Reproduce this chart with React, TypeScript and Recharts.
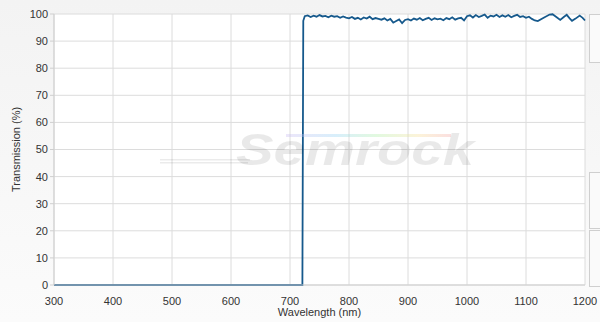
import React from "react";
import { LineChart, Line, XAxis, YAxis, CartesianGrid } from "recharts";

// blocked region, flat at 0 up to the edge
const blockPoints: [number, number][] = [
  [300, 0],
  [721, 0],
  [722.5, 97.5],
];

// pass band, sampled every 5 nm from 725 to 1115
const passStart = 725;
const passStep = 5;
const passT = [
  99.2, 99.5, 98.9, 99.4, 99.0, 99.6, 99.1, 99.3, 98.8, 99.4, 99.0, 99.2, 98.6, 99.1, 98.7,
  98.4, 98.9, 98.2, 98.6, 98.0, 98.7, 98.3, 99.0, 98.1, 98.5, 98.2,
  97.9, 98.4, 97.6, 98.2, 96.8, 97.4, 98.0, 96.6, 97.8, 98.1,
  97.6, 98.3, 97.9, 98.5, 97.7, 98.2, 98.6, 97.8, 98.4, 98.0,
  98.3, 97.7, 98.5, 98.1, 98.8, 97.9, 98.4, 98.6, 97.6, 99.2,
  99.5, 98.7, 99.6, 98.9, 99.3, 99.8, 98.6, 99.4, 99.1, 99.7,
  98.9, 99.5, 99.0, 99.6, 98.8, 99.3, 99.7, 98.9, 99.2,
  98.6, 99.0, 98.2, 97.6,
];

// smoother tail past 1115 nm
const tailPoints: [number, number][] = [
  [1120, 97.4], [1130, 98.6], [1140, 99.8], [1145, 99.9], [1152, 98.8],
  [1158, 97.8], [1164, 98.9], [1169, 99.7], [1174, 98.4], [1178, 97.5],
  [1184, 98.3], [1191, 99.4], [1196, 98.6], [1200, 97.6],
];

const xTicks = [300, 400, 500, 600, 700, 800, 900, 1000, 1100, 1200];
const yTicks = [0, 10, 20, 30, 40, 50, 60, 70, 80, 90, 100];

const data = [
  ...blockPoints.map(([nm, t]) => ({ nm, t })),
  ...passT.map((t, i) => ({ nm: passStart + i * passStep, t })),
  ...tailPoints.map(([nm, t]) => ({ nm, t })),
];

const font = "'Liberation Sans', Arial, sans-serif";

export default function App() {
  return (
    <div
      style={{
        position: "fixed",
        left: 0,
        top: 0,
        width: 600,
        height: 322,
        overflow: "hidden",
        background: "linear-gradient(to bottom, #f3f3f3, #fbfbfb)",
        fontFamily: font,
      }}
    >
      <LineChart
        width={600}
        height={322}
        data={data}
        margin={{ top: 14, right: 15, left: 0, bottom: 0 }}
      >
        <CartesianGrid stroke="#dcdcdc" fill="#ffffff" strokeWidth={1} />
        <XAxis
          dataKey="nm"
          type="number"
          domain={[300, 1200]}
          ticks={xTicks}
          tickLine={false}
          axisLine={{ stroke: "#cfcfcf" }}
          tick={{ fill: "#333", fontSize: 11, fontFamily: font }}
          tickMargin={6}
          height={37}
          label={{
            value: "Wavelength (nm)",
            position: "insideBottom",
            offset: 6,
            style: { fill: "#333", fontSize: 11, fontFamily: font },
          }}
        />
        <YAxis
          type="number"
          domain={[0, 100]}
          ticks={yTicks}
          width={54}
          tickSize={4}
          tickMargin={2}
          tickLine={{ stroke: "#cfcfcf" }}
          axisLine={{ stroke: "#cfcfcf" }}
          tick={{ fill: "#333", fontSize: 11, fontFamily: font }}
          label={{
            value: "Transmission (%)",
            angle: -90,
            position: "insideLeft",
            offset: 16,
            style: { fill: "#333", fontSize: 11, fontFamily: font, textAnchor: "middle" },
          }}
        />
        <Line
          type="linear"
          dataKey="t"
          stroke="#16598c"
          strokeWidth={1.8}
          dot={false}
          isAnimationActive={false}
        />
      </LineChart>

      {/* watermark */}
      <svg
        width={600}
        height={322}
        style={{ position: "absolute", left: 0, top: 0, pointerEvents: "none" }}
      >
        <defs>
          <linearGradient id="rb" x1="0" x2="1" y1="0" y2="0">
            <stop offset="0" stopColor="#c8b8f0" stopOpacity="0.35" />
            <stop offset="0.3" stopColor="#9ed6f5" stopOpacity="0.4" />
            <stop offset="0.55" stopColor="#b6f0b0" stopOpacity="0.4" />
            <stop offset="0.8" stopColor="#f7e2a0" stopOpacity="0.4" />
            <stop offset="1" stopColor="#f5b0b0" stopOpacity="0.4" />
          </linearGradient>
        </defs>
        <rect x={286} y={134} width={165} height={3} fill="url(#rb)" />
        <rect x={160} y={159} width={90} height={1.5} fill="rgba(0,0,0,0.08)" />
        <rect x={160} y={162} width={88} height={1.5} fill="rgba(0,0,0,0.08)" />
        <text
          x={236}
          y={165}
          fontSize={44}
          fontStyle="italic"
          fontWeight="bold"
          fontFamily={font}
          fill="rgba(0,0,0,0.085)"
          textLength={238}
          lengthAdjust="spacingAndGlyphs"
        >
          Semrock
        </text>
      </svg>

      {/* side panels */}
      <div style={{ position: "absolute", left: 589, top: 14, width: 20, height: 47, background: "#fafafa", border: "1px solid #cfcfcf" }} />
      <div style={{ position: "absolute", left: 589, top: 172, width: 20, height: 55, background: "#fafafa", border: "1px solid #cfcfcf" }} />
      <div style={{ position: "absolute", left: 589, top: 230, width: 20, height: 55, background: "#fafafa", border: "1px solid #cfcfcf" }} />
    </div>
  );
}
